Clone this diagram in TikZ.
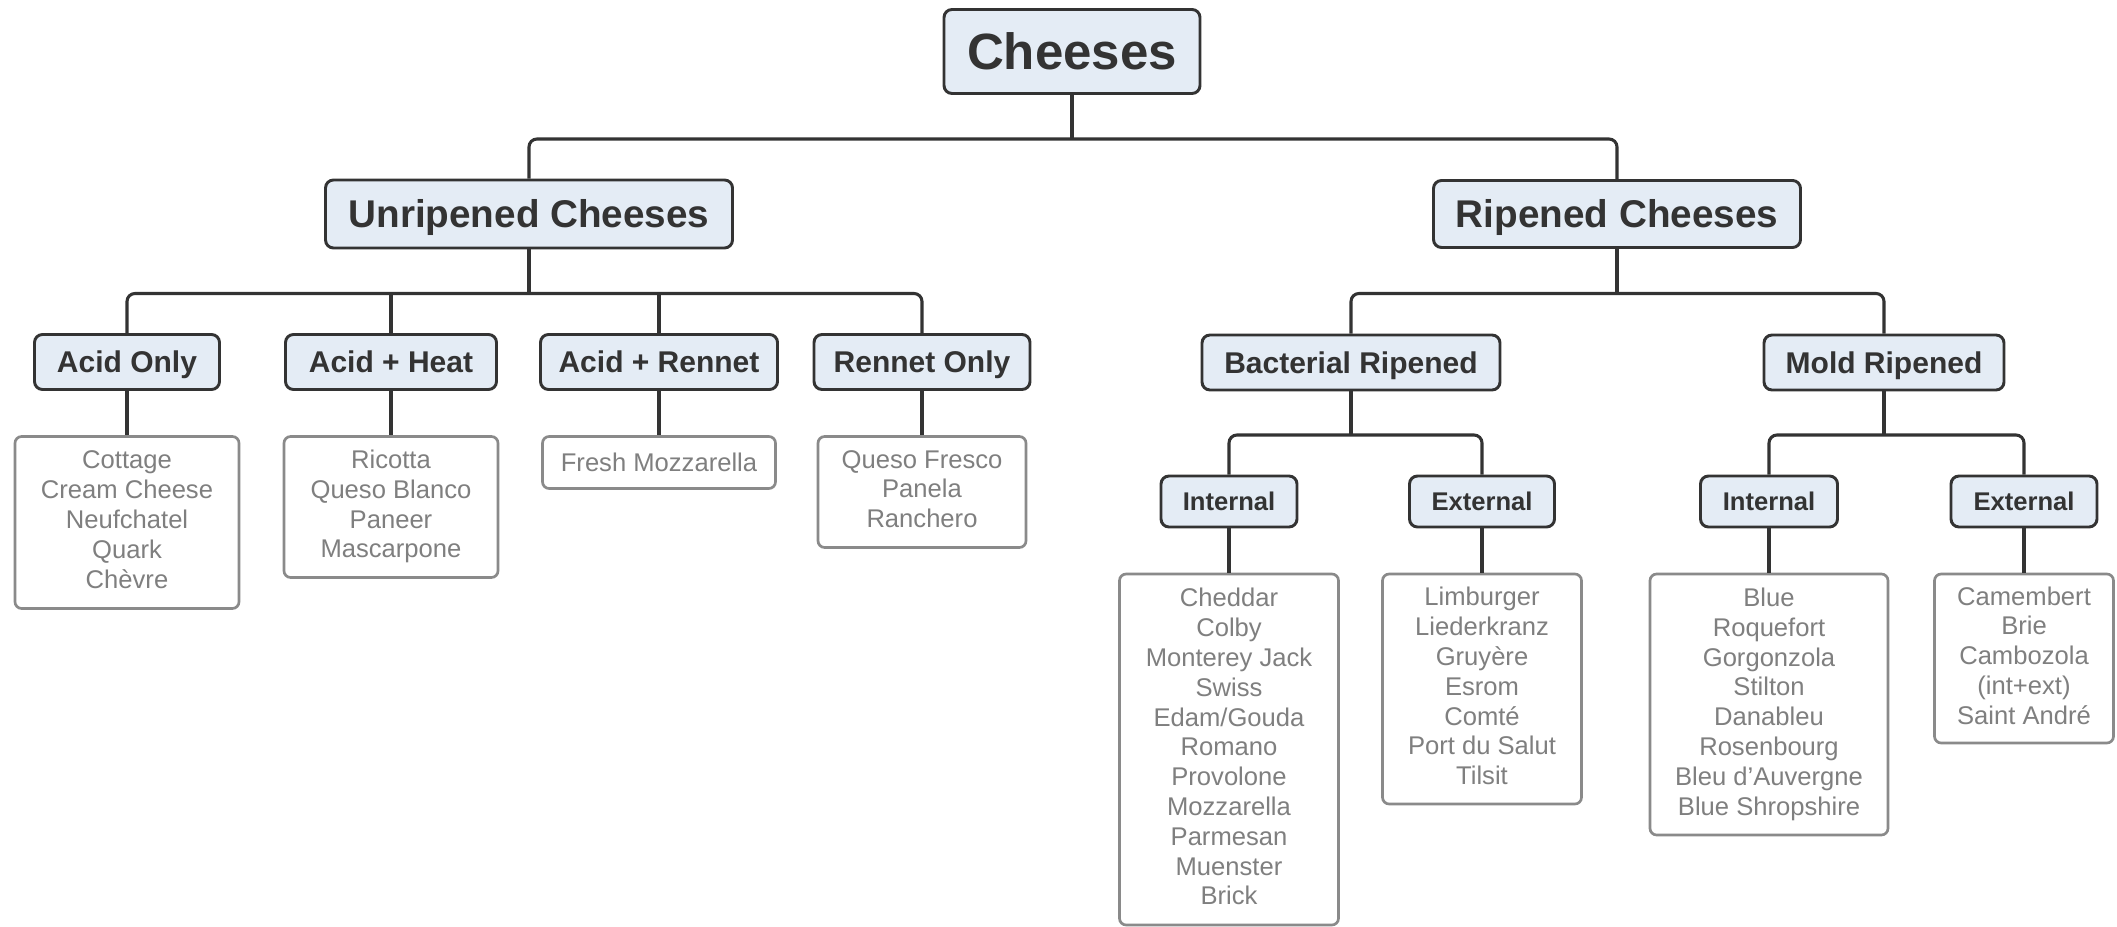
\documentclass[tikz,border=0pt]{standalone}
\usepackage{fontspec}
\setmainfont{Liberation Sans}
\definecolor{hdrfill}{HTML}{E4ECF5}
\definecolor{hdrline}{HTML}{333333}
\definecolor{leafline}{HTML}{8A8A8A}
\definecolor{leaftext}{HTML}{7F7F7F}
\newcommand\leafstrut{\rule[-0.2\baselineskip]{0pt}{\baselineskip}}
\tikzset{
  hdr/.style={draw=hdrline, fill=hdrfill, line width=2.2pt, rounded corners=6pt,
    text=hdrline, inner sep=0pt, text depth=0pt},
  leaf/.style={draw=leafline, fill=white, line width=2pt, rounded corners=5pt,
    text=leaftext, inner sep=0pt, align=center,
    font=\fontsize{19.2pt}{22.35pt}\selectfont,
    execute at begin node=\leafstrut, execute at end node=\leafstrut},
  conn/.style={draw=hdrline, line width=2.3pt, rounded corners=6pt},
  f0/.style={font=\fontsize{38.25pt}{44pt}\selectfont\bfseries, text height=27.4pt},
  f1/.style={font=\fontsize{29pt}{34pt}\selectfont\bfseries, text height=20.8pt},
  f2/.style={font=\fontsize{22.5pt}{27pt}\selectfont\bfseries, text height=16.1pt},
  f3/.style={font=\fontsize{19.2pt}{23pt}\selectfont\bfseries, text height=13.75pt},
}
\begin{document}
\begin{tikzpicture}[x=0.75pt,y=-0.75pt]
\useasboundingbox[fill=white] (0,0) rectangle (2117,927);
% bar coordinates
\coordinate (b1) at (0,139);
\coordinate (b2) at (0,293.5);
\coordinate (b3) at (0,435);
% headers
\node[hdr,f0,minimum width=192pt,minimum height=63pt] (root) at (1072,51.5) {Cheeses};
\node[hdr,f1,minimum width=305.25pt,minimum height=51pt] (unrip) at (529,214) {Unripened Cheeses};
\node[hdr,f1,minimum width=275.25pt,minimum height=50.25pt] (rip) at (1617,214) {Ripened Cheeses};
\node[hdr,f2,minimum width=138.75pt,minimum height=41.25pt] (acidonly) at (127,362) {Acid Only};
\node[hdr,f2,minimum width=158.25pt,minimum height=41.25pt] (acidheat) at (391,362) {Acid + Heat};
\node[hdr,f2,minimum width=177.75pt,minimum height=41.25pt] (acidrennet) at (659,362) {Acid + Rennet};
\node[hdr,f2,minimum width=162pt,minimum height=41.25pt] (rennetonly) at (922,362) {Rennet Only};
\node[hdr,f2,minimum width=223.5pt,minimum height=41.25pt] (bact) at (1351,362.5) {Bacterial Ripened};
\node[hdr,f2,minimum width=180pt,minimum height=41.25pt] (mold) at (1884,362.5) {Mold Ripened};
\node[hdr,f3,minimum width=102pt,minimum height=38.25pt] (bint) at (1229,501.5) {Internal};
\node[hdr,f3,minimum width=108.75pt,minimum height=38.25pt] (bext) at (1482,501.5) {External};
\node[hdr,f3,minimum width=102.75pt,minimum height=38.25pt] (mint) at (1769,501.5) {Internal};
\node[hdr,f3,minimum width=109.5pt,minimum height=38.25pt] (mext) at (2024,501.5) {External};
% leaves
\node[leaf,minimum width=168pt,minimum height=129pt] (l1) at (127,522.5)
  {Cottage\\Cream Cheese\\Neufchatel\\Quark\\Chèvre};
\node[leaf,minimum width=160.5pt,minimum height=105.75pt] (l2) at (391,507)
  {Ricotta\\Queso Blanco\\Paneer\\Mascarpone};
\node[leaf,minimum width=174.75pt,minimum height=39pt] (l3) at (659,462.5)
  {Fresh Mozzarella};
\node[leaf,minimum width=156pt,minimum height=83.25pt] (l4) at (922,492)
  {Queso Fresco\\Panela\\Ranchero};
\node[leaf,minimum width=164.25pt,minimum height=263.25pt] (l5) at (1229,749.5)
  {Cheddar\\Colby\\Monterey Jack\\Swiss\\Edam/Gouda\\Romano\\Provolone\\Mozzarella\\Parmesan\\Muenster\\Brick};
\node[leaf,minimum width=149.25pt,minimum height=172.5pt] (l6) at (1482,689)
  {Limburger\\Liederkranz\\Gruyère\\Esrom\\Comté\\Port du Salut\\Tilsit};
\node[leaf,minimum width=178.5pt,minimum height=195.75pt] (l7) at (1769,704.5)
  {Blue\\Roquefort\\Gorgonzola\\Stilton\\Danableu\\Rosenbourg\\Bleu d'Auvergne\\Blue Shropshire};
\node[leaf,minimum width=134.25pt,minimum height=126.75pt] (l8) at (2024,658.5)
  {Camembert\\Brie\\Cambozola\\(int+ext)\\Saint André};
% connectors: root level
\draw[conn] (root.south) -- (root.south |- b1);
\draw[conn] (unrip.north) -- (unrip.north |- b1) -- (rip.north |- b1) -- (rip.north);
% unripened
\draw[conn] (unrip.south) -- (unrip.south |- b2);
\draw[conn] (acidonly.north) -- (acidonly.north |- b2) -- (rennetonly.north |- b2) -- (rennetonly.north);
\draw[conn] (acidheat.north) -- (acidheat.north |- b2);
\draw[conn] (acidrennet.north) -- (acidrennet.north |- b2);
% ripened
\draw[conn] (rip.south) -- (rip.south |- b2);
\draw[conn] (bact.north) -- (bact.north |- b2) -- (mold.north |- b2) -- (mold.north);
% bacterial / mold
\draw[conn] (bact.south) -- (bact.south |- b3);
\draw[conn] (bint.north) -- (bint.north |- b3) -- (bext.north |- b3) -- (bext.north);
\draw[conn] (mold.south) -- (mold.south |- b3);
\draw[conn] (mint.north) -- (mint.north |- b3) -- (mext.north |- b3) -- (mext.north);
% to leaves
\draw[conn] (acidonly.south) -- (l1.north);
\draw[conn] (acidheat.south) -- (l2.north);
\draw[conn] (acidrennet.south) -- (l3.north);
\draw[conn] (rennetonly.south) -- (l4.north);
\draw[conn] (bint.south) -- (l5.north);
\draw[conn] (bext.south) -- (l6.north);
\draw[conn] (mint.south) -- (l7.north);
\draw[conn] (mext.south) -- (l8.north);
\end{tikzpicture}
\end{document}
